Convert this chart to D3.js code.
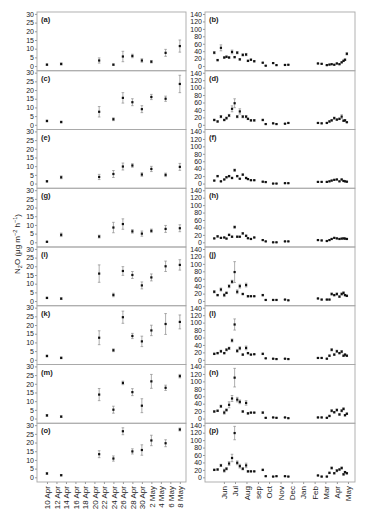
<!DOCTYPE html>
<html>
<head>
<meta charset="utf-8">
<script src="https://cdn.jsdelivr.net/npm/d3@7/dist/d3.min.js"></script>
<style>
body { margin: 0; background: #fff; }
text { font-family: "Liberation Sans", Arial, sans-serif; }
</style>
</head>
<body>
<div id="chart"></div>
<script>
// left column: incubation dates
var leftDates = ["2012-04-10","2012-04-13","2012-04-21","2012-04-24","2012-04-26","2012-04-28","2012-04-30","2012-05-02","2012-05-05","2012-05-08"];
var leftTicks = ["10 Apr","12 Apr","14 Apr","16 Apr","18 Apr","20 Apr","22 Apr","24 Apr","26 Apr","28 Apr","30 Apr","2 May","4 May","6 May","8 May"];

var aVal = [0.8, 1.2, 3.2, 0.8, 5.5, 5.8, 3.2, 2.5, 7.6, 11.5];
var aErr = [0.4, 0.6, 1.5, 0.4, 3, 1, 1, 0.7, 2, 3.5];
var cVal = [2.2, 1.6, 7.5, 3.2, 15.5, 13, 9, 16, 15, 23.5];
var cErr = [0.5, 0.5, 3, 0.8, 3, 2, 2, 1.5, 1.5, 5];
var eVal = [1.3, 3.6, 3.8, 5.5, 9.8, 10.4, 5.2, 8.4, 5, 9.6];
var eErr = [0.4, 0.8, 1.5, 2, 2, 1, 1, 1.5, 1, 2];
var gVal = [0.3, 4.3, 3.3, 8.5, 10.5, 6.3, 5, 6.6, 7.7, 8.1];
var gErr = [0.3, 1, 0.8, 3, 3, 1, 1.5, 1, 2, 2];
var iVal = [1.8, 1.4, 15.8, 3.5, 17.3, 15, 9, 13.6, 20, 20.8];
var iErr = [0.4, 0.5, 5, 1, 2.5, 2, 2, 2, 3, 3];
var kVal = [2.2, 1.1, 12.7, 5.5, 24.5, 13.7, 10.6, 16.9, 20.6, 21.8];
var kErr = [0.5, 0.5, 4, 0.8, 3.5, 1.5, 3, 3, 6, 4];
var mVal = [1.8, 1.1, 13.8, 5.1, 20.5, 15.2, 7.4, 21.4, 17.7, 24.4];
var mErr = [0.5, 0.5, 3.5, 2, 1, 2, 4, 4, 1.5, 1];
var oVal = [2.2, 1.2, 13.3, 10.8, 26.5, 14.9, 15.7, 21.2, 19.6, 27.5];
var oErr = [0.5, 0.4, 2, 1.5, 2, 1.5, 3, 3, 2, 0.8];

// right column: field sampling dates
var rightDates = ["2011-05-20","2011-05-29","2011-06-07","2011-06-16","2011-06-22","2011-06-29","2011-07-07","2011-07-14","2011-07-21","2011-07-28","2011-08-05","2011-08-14","2011-08-19","2011-08-27","2011-09-05","2011-09-28","2011-10-06","2011-10-26","2011-11-04","2011-11-27","2011-12-06","2012-02-24","2012-03-05","2012-03-19","2012-03-26","2012-04-01","2012-04-08","2012-04-15","2012-04-22","2012-04-28","2012-05-03","2012-05-07","2012-05-12"];
var rightTicks = ["Jun","Jul","Aug","sep","Oct","Nov","Dec","Jan","Feb","Mar","Apr","May"];

var bVal = [36,16,49,23,25,23,38,24,36,18,30,31,14,17,13,9,1,8,2.5,3,3.5,7,6,2.5,4,5,3.5,7,5,10,14,17,33];
var bErr = [3,2,8,2,2,2,5,2,3,2,3,3,2,2,2,1,0.5,1,0.5,0.5,0.5,1,1,0.5,0.5,1,0.5,1,1,1,2,2,3];
var dVal = [13,9,22,13,18,25,43,58,22,36,22,22,16,12,12,13,2,4,2,3,5,5,4,5,9,12,18,14,16,22,11,12,7];
var dErr = [2,2,3,2,3,3,8,12,3,7,3,3,2,2,2,2,0.5,1,0.5,0.5,1,1,1,1,2,2,3,2,2,5,2,2,1];
var fVal = [8,20,6,11,17,20,15,36,20,13,24,15,12,9,9,5,4,0,0,1,1,4.5,4.5,4.5,6,8,10,11,6,11,7,6,5];
var fErr = [1,2,1,1,2,2,2,3,2,1,2,2,1,1,1,1,0.5,0.3,0.3,0.3,0.3,0.5,0.5,0.5,1,1,1,1,1,1,1,1,1];
var hVal = [10.5,16,12,13,10,20,15,41,15,15,24,17.5,11,9,13,6,2.5,0,0,2.5,2.5,6,5,3.5,6,9,12,10.5,9,10,10.5,10,9];
var hErr = [1,2,1,1,1,2,2,3,2,1,2,2,1,1,1,1,0.5,0.3,0.3,0.5,0.5,1,1,0.5,1,1,1,1,1,1,1,1,1];
var jVal = [25,16,31,16,22,40,52,78,25,40,19,43,13,13,13,16,3,3,3,4,2,7,4,4,4,19,16,19,12,19,22,16,14];
var jErr = [3,2,4,4,2,4,4,28,5,5,2,5,2,1,1,2,0.5,0.5,0.5,0.5,0.5,1,1,1,1,3,2,3,2,3,3,2,2];
var lVal = [16,18,23,18,27,31,52,95,24,31,14,32,18,14,15,16,4,3,2,3,2,5,5,3,11,27,14,23,18,22,11,14,11];
var lErr = [2,2,3,2,3,3,4,15,4,4,2,5,2,1,1,2,0.5,0.5,0.5,0.5,0.5,1,1,1,2,3,2,3,2,3,2,2,2];
var nVal = [19,21,33,16,23,37,54,110,51,45,19,42,14,16,16,16,2,3,2,3,1,3,3,2,7,21,17,23,11,21,26,9,13];
var nErr = [2,2,3,4,3,8,8,25,6,5,2,6,2,1,1,2,0.5,0.5,0.5,0.5,0.5,1,1,1,2,3,2,3,2,3,3,2,2];
var pVal = [20,21,32,18,23,37,52,119,39,30,23,32,16,16,16,20,3,2,3,3,2,5,2,2,12,25,11,18,21,25,8,14,11];
var pErr = [2,2,3,4,3,5,10,18,5,5,3,6,2,1,1,2,0.5,0.5,0.5,0.5,0.5,1,1,1,2,3,2,3,2,3,2,2,2];

var leftPanels = [
  {lab: "(a)", v: aVal, e: aErr}, {lab: "(c)", v: cVal, e: cErr},
  {lab: "(e)", v: eVal, e: eErr}, {lab: "(g)", v: gVal, e: gErr},
  {lab: "(i)", v: iVal, e: iErr}, {lab: "(k)", v: kVal, e: kErr},
  {lab: "(m)", v: mVal, e: mErr}, {lab: "(o)", v: oVal, e: oErr}
];
var rightPanels = [
  {lab: "(b)", v: bVal, e: bErr}, {lab: "(d)", v: dVal, e: dErr},
  {lab: "(f)", v: fVal, e: fErr}, {lab: "(h)", v: hVal, e: hErr},
  {lab: "(j)", v: jVal, e: jErr}, {lab: "(l)", v: lVal, e: lErr},
  {lab: "(n)", v: nVal, e: nErr}, {lab: "(p)", v: pVal, e: pErr}
];

var svgWidth = 374, svgHeight = 518;
var top0 = 12, ph = 58.75;
var DAY = 864e5;
var parse = d3.timeParse("%Y-%m-%d");

var svg = d3.select("#chart").append("svg")
  .attr("width", svgWidth)
  .attr("height", svgHeight);

var apr10 = parse("2012-04-10");
var xL = d3.scaleTime()
  .domain([new Date(+apr10 - 2.1 * DAY), new Date(+apr10 + 29.3 * DAY)])
  .range([37, 186]);
var xR = d3.scaleTime()
  .domain([parse("2011-04-25"), parse("2012-06-03")])
  .range([205, 355]);

var leftTickDates = leftTicks.map(function(d, i) { return new Date(+apr10 + 2 * i * DAY); });
var rightTickDates = rightTicks.map(function(d, i) { return new Date(2011, 5 + i, 15); });

function drawPanel(p, row, x, dates, yDomain, yTicks, tickDates, tickLabels) {
  var top = top0 + row * ph;
  var y = d3.scaleLinear().domain(yDomain).range([top + ph, top]);
  var x0 = x.range()[0], x1 = x.range()[1];
  var g = svg.append("g");

  g.append("rect")
    .attr("x", x0).attr("y", top)
    .attr("width", x1 - x0).attr("height", ph)
    .attr("fill", "none")
    .attr("stroke", "#a8a8a8")
    .attr("stroke-width", 0.9);

  var ya = g.append("g")
    .attr("transform", "translate(" + x0 + ",0)")
    .call(d3.axisLeft(y).tickValues(yTicks).tickSize(2).tickPadding(1));
  ya.select(".domain").remove();
  ya.selectAll("line").attr("stroke", "#999");
  ya.selectAll("text").attr("font-size", 7).attr("fill", "#222")
    .attr("font-family", "Liberation Sans, Arial, sans-serif");

  g.append("text")
    .attr("x", x0 + 4).attr("y", top + 10)
    .attr("font-size", 7.5).attr("font-weight", "bold").attr("fill", "#222")
    .text(p.lab);

  var pts = p.v.map(function(v, i) { return {d: parse(dates[i]), v: v, e: p.e[i]}; });

  var eb = g.selectAll(".eb").data(pts).enter().append("g").attr("class", "eb")
    .attr("stroke", "#8a8a8a").attr("stroke-width", 0.7);
  eb.append("line")
    .attr("x1", function(d) { return x(d.d); }).attr("x2", function(d) { return x(d.d); })
    .attr("y1", function(d) { return y(d.v - d.e); }).attr("y2", function(d) { return y(d.v + d.e); });
  eb.append("line")
    .attr("x1", function(d) { return x(d.d) - 1.3; }).attr("x2", function(d) { return x(d.d) + 1.3; })
    .attr("y1", function(d) { return y(d.v + d.e); }).attr("y2", function(d) { return y(d.v + d.e); });
  eb.append("line")
    .attr("x1", function(d) { return x(d.d) - 1.3; }).attr("x2", function(d) { return x(d.d) + 1.3; })
    .attr("y1", function(d) { return y(d.v - d.e); }).attr("y2", function(d) { return y(d.v - d.e); });

  g.selectAll(".pt").data(pts).enter().append("rect").attr("class", "pt")
    .attr("x", function(d) { return x(d.d) - 1.1; })
    .attr("y", function(d) { return y(d.v) - 1.1; })
    .attr("width", 2.2).attr("height", 2.2)
    .attr("fill", "#111");

  if (row === 7) {
    var xa = g.append("g")
      .attr("transform", "translate(0," + (top + ph) + ")")
      .call(d3.axisBottom(x).tickValues(tickDates).tickSize(2).tickPadding(2)
        .tickFormat(function(d, i) { return tickLabels[i]; }));
    xa.select(".domain").remove();
    xa.selectAll("line").attr("stroke", "#999");
    xa.selectAll("text")
      .attr("font-size", 8).attr("fill", "#222")
      .attr("font-family", "Liberation Sans, Arial, sans-serif")
      .attr("text-anchor", "end")
      .attr("dy", "0.35em")
      .attr("transform", "translate(0,2) rotate(-90)")
      .attr("x", -2).attr("y", 0);
  }
}

leftPanels.forEach(function(p, r) {
  drawPanel(p, r, xL, leftDates, [-2.7, 31.1], [0, 5, 10, 15, 20, 25, 30], leftTickDates, leftTicks);
});
rightPanels.forEach(function(p, r) {
  drawPanel(p, r, xR, rightDates, [-12.6, 145.4], [0, 20, 40, 60, 80, 100, 120, 140], rightTickDates, rightTicks);
});

// y axis title
var yt = svg.append("text")
  .attr("transform", "translate(20,244) rotate(-90)")
  .attr("text-anchor", "middle")
  .attr("font-size", 8).attr("fill", "#222");
yt.append("tspan").text("N");
yt.append("tspan").attr("font-size", 5.5).attr("dy", 2).text("2");
yt.append("tspan").attr("dy", -2).text("O (μg m");
yt.append("tspan").attr("font-size", 5.5).attr("dy", -3).text("−2");
yt.append("tspan").attr("dy", 3).text(" h");
yt.append("tspan").attr("font-size", 5.5).attr("dy", -3).text("−1");
yt.append("tspan").attr("dy", 3).text(")");
</script>
</body>
</html>
